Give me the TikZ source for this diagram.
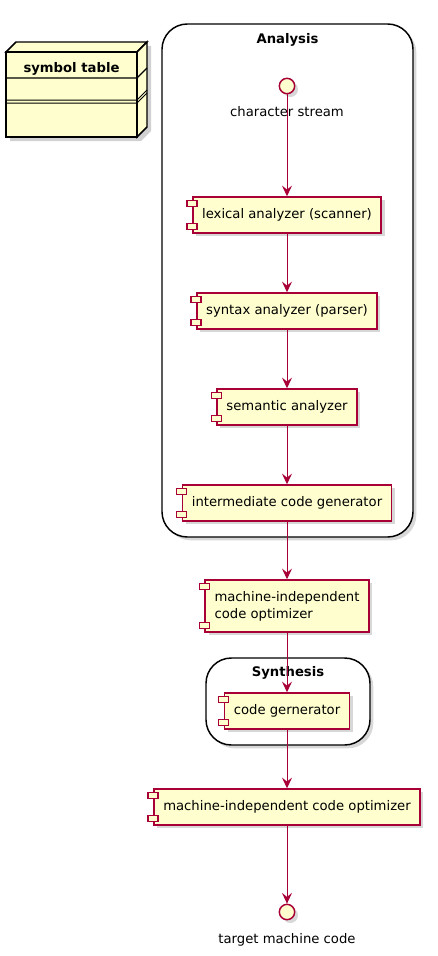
\documentclass[tikz,border=0pt]{standalone}
\usepackage{fontspec}
\setmainfont{DejaVu Sans}
\usetikzlibrary{arrows.meta,shadows,positioning}
\definecolor{umlfill}{HTML}{FEFECE}
\definecolor{umlline}{HTML}{A80036}

\begin{document}
\begin{tikzpicture}[
            x=0.75pt, y=-0.75pt,
            font=\fontsize{9.9}{12.75}\selectfont,
            shade/.style={drop shadow={shadow xshift=2.5pt, shadow yshift=-2.5pt, opacity=0.22, fill=black!70}},
            comp/.style={rectangle, draw=umlline, fill=umlfill, line width=1.1pt,
                         minimum height=27pt, inner xsep=7pt, align=left, shade},
            iface/.style={circle, draw=umlline, fill=umlfill, line width=1.1pt,
                          minimum size=11.5pt, inner sep=0pt, shade},
            frame/.style={rectangle, draw=black, fill=white, line width=1.1pt,
                          rounded corners=19pt, shade},
            title/.style={font=\fontsize{9.9}{12.75}\selectfont\bfseries},
            tab/.style={draw=umlline, fill=umlfill, line width=1.1pt},
            flow/.style={-{Stealth[length=8pt, width=7.5pt, inset=3pt]}, umlline, line width=0.75pt}
        ]
            \useasboundingbox (0,0) rectangle (437,956);

            % Symbol table
            \fill[black, opacity=0.18] (10,56) rectangle (141,141) (141,46) -- (151,46) -- (151,131) -- (141,141) -- cycle;
            \filldraw[black, fill=umlfill, line width=1.1pt] (6,52) -- (16,42) -- (147,42) -- (137,52) -- cycle;
            \filldraw[black, fill=umlfill, line width=1.1pt] (137,52) -- (147,42) -- (147,127) -- (137,137) -- cycle;
            \filldraw[black, fill=umlfill, line width=1.1pt] (6,52) rectangle (137,137);
            \draw[black, line width=1pt] (6,78) -- (137,78) -- (147,68);
            \draw[black, line width=0.75pt] (6,100) -- (137,100) -- (147,90) (6,103) -- (137,103) -- (147,93);
            \node[title] (symtab) at (71.5,68.5) {symbol table};

            % Frames
            \node[frame, minimum width=188.25pt, minimum height=384.75pt] (analysis) at (287.5,280.5) {};
            \node[title] (analysistitle) at (287.5,40) {Analysis};
            \node[frame, minimum width=123pt, minimum height=65.25pt] (synthesis) at (288,701.5) {};
            \node[title] (synthesistitle) at (288,673) {Synthesis};

            % Interfaces
            \node[iface] (cs) at (287,86) {};
            \node (cslabel) at (287,112) {character stream};
            \node[iface] (tmc) at (287,912) {};
            \node (tmclabel) at (287,940) {target machine code};

            % Components
            \node[comp] (lex) at (287,215) {lexical analyzer (scanner)};
            \node[comp] (syn) at (287,311) {syntax analyzer (parser)};
            \node[comp] (sem) at (287,407) {semantic analyzer};
            \node[comp] (inter) at (287,503) {intermediate code generator};
            \node[comp, minimum height=39pt] (opt) at (287,606) {machine-independent\\code optimizer};
            \node[comp] (cg) at (287,711) {code gernerator};
            \node[comp] (optb) at (287,807) {machine-independent code optimizer};

            \foreach \n in {lex,syn,sem,inter,opt,cg,optb} {
                \draw[tab] ([shift={(-5,4)}]\n.north west) rectangle ++(10,6);
                \draw[tab] ([shift={(-5,-10)}]\n.south west) rectangle ++(10,6);
            }

            % Arrows
            \draw[flow] (cs) -- (lex);
            \draw[flow] (lex) -- (syn);
            \draw[flow] (syn) -- (sem);
            \draw[flow] (sem) -- (inter);
            \draw[flow] (inter) -- (opt);
            \draw[flow] (opt) -- (cg);
            \draw[flow] (cg) -- (optb);
            \draw[flow] (optb) -- (tmc);
        \end{tikzpicture}
\end{document}
